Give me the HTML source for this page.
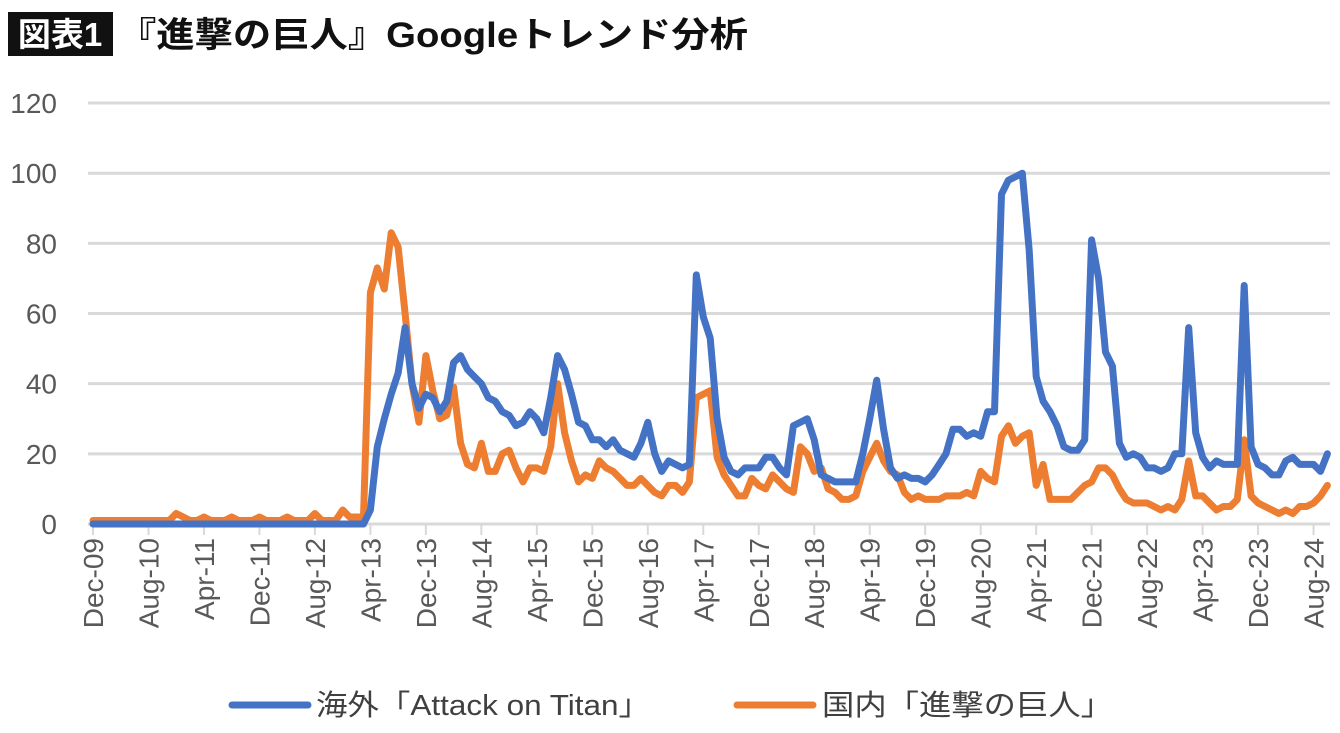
<!DOCTYPE html>
<html><head><meta charset="utf-8"><style>
body{margin:0;background:#fff;width:1340px;height:728px;overflow:hidden;font-family:"Liberation Sans","Noto Sans CJK JP",sans-serif}
</style></head><body>
<svg width="1340" height="728" id="c">
<rect x="8" y="12" width="105" height="44" fill="#111"/>
<text x="60" y="46" text-anchor="middle" fill="#fff" font-size="33" font-weight="bold" font-family="Liberation Sans,Noto Sans CJK JP,sans-serif">図表1</text>
<text x="118" y="47" fill="#111" font-size="35" font-weight="bold" textLength="630" lengthAdjust="spacingAndGlyphs" font-family="Liberation Sans,Noto Sans CJK JP,sans-serif">『進撃の巨人』Googleトレンド分析</text>
<g id="grid"></g><g id="xax"></g><g id="lines"></g>
<g>
<line x1="232" y1="705" x2="308" y2="705" stroke="#4472c4" stroke-width="7" stroke-linecap="round"/>
<text x="316" y="715" font-size="29" fill="#404040" textLength="334" lengthAdjust="spacingAndGlyphs" font-family="Liberation Sans,Noto Sans CJK JP,sans-serif">海外「Attack on Titan」</text>
<line x1="737" y1="705" x2="813" y2="705" stroke="#ed7d31" stroke-width="7" stroke-linecap="round"/>
<text x="822" y="715" font-size="29" fill="#404040" textLength="291" lengthAdjust="spacingAndGlyphs" font-family="Liberation Sans,Noto Sans CJK JP,sans-serif">国内「進撃の巨人」</text>
</g>
</svg>
<script>
const yTicks=[0,20,40,60,80,100,120];
const xLabels=["Dec-09","Aug-10","Apr-11","Dec-11","Aug-12","Apr-13","Dec-13","Aug-14","Apr-15","Dec-15","Aug-16","Apr-17","Dec-17","Aug-18","Apr-19","Dec-19","Aug-20","Apr-21","Dec-21","Aug-22","Apr-23","Dec-23","Aug-24"];
const overseas=[0,0,0,0,0,0,0,0,0,0,0,0,0,0,0,0,0,0,0,0,0,0,0,0,0,0,0,0,0,0,0,0,0,0,0,0,0,0,0,0,
4,22,30,37,43,56,40,33,37,36,32,35,46,48,44,42,40,36,35,32,31,28,29,32,30,26,36,48,44,37,29,28,24,24,22,24,21,20,19,23,29,20,15,18,17,16,17,71,59,53,30,19,15,14,16,16,16,19,19,16,14,28,29,30,24,14,13,12,12,12,12,20,30,41,27,16,13,14,13,13,12,14,17,20,27,27,25,26,25,32,32,94,98,99,100,78,42,35,32,28,22,21,21,24,81,70,49,45,23,19,20,19,16,16,15,16,20,20,56,26,19,16,18,17,17,17,68,22,17,16,14,14,18,19,17,17,17,15,20];
const domestic=[1,1,1,1,1,1,1,1,1,1,1,1,3,2,1,1,2,1,1,1,2,1,1,1,2,1,1,1,2,1,1,1,3,1,1,1,4,2,2,2,
66,73,67,83,79,60,40,29,48,38,30,31,39,23,17,16,23,15,15,20,21,16,12,16,16,15,22,40,26,18,12,14,13,18,16,15,13,11,11,13,11,9,8,11,11,9,12,36,37,38,19,14,11,8,8,13,11,10,14,12,10,9,22,20,15,16,10,9,7,7,8,15,19,23,18,15,14,9,7,8,7,7,7,8,8,8,9,8,15,13,12,25,28,23,25,26,11,17,7,7,7,7,9,11,12,16,16,14,10,7,6,6,6,5,4,5,4,7,18,8,8,6,4,5,5,7,24,8,6,5,4,3,4,3,5,5,6,8,11];
const NS="http://www.w3.org/2000/svg";
const X0=93,DX=6.935,Y0=524,DY=3.508;
const xs=i=>X0+DX*i, ys=v=>Y0-DY*v;
function mk(t,a,p){const e=document.createElementNS(NS,t);for(const k in a)e.setAttribute(k,a[k]);p.appendChild(e);return e;}
const grid=document.getElementById('grid');
yTicks.forEach(v=>{
 const l=mk('line',{x1:88,x2:1330,y1:ys(v),y2:ys(v),stroke:'#d9d9d9','stroke-width':3},grid);
 
 
 const t=mk('text',{x:57,y:ys(v)+10,'text-anchor':'end','font-size':28,fill:'#595959'},grid);
 t.textContent=v;
 
 
});
const xax=document.getElementById('xax');
xLabels.forEach((s,k)=>{
 const x=xs(k*8);
 const tk=mk('line',{x1:x,x2:x,y1:Y0,y2:Y0+11,stroke:'#d9d9d9','stroke-width':2},xax);
 
 
 const t=mk('text',{x:x+10,y:538,'text-anchor':'end','font-size':28,fill:'#595959',transform:`rotate(-90 ${x+10} 538)`},xax);
 t.textContent=s;
 
 
});
const lines=document.getElementById('lines');
[[domestic,'#ed7d31','line-domestic'],[overseas,'#4472c4','line-overseas']].forEach(([d,c,n])=>{
 const p=mk('polyline',{points:d.map((v,i)=>xs(i).toFixed(1)+','+ys(v).toFixed(1)).join(' '),fill:'none',stroke:c,'stroke-width':7,'stroke-linejoin':'round','stroke-linecap':'round'},lines);
 
 
});
</script>
</body></html>
